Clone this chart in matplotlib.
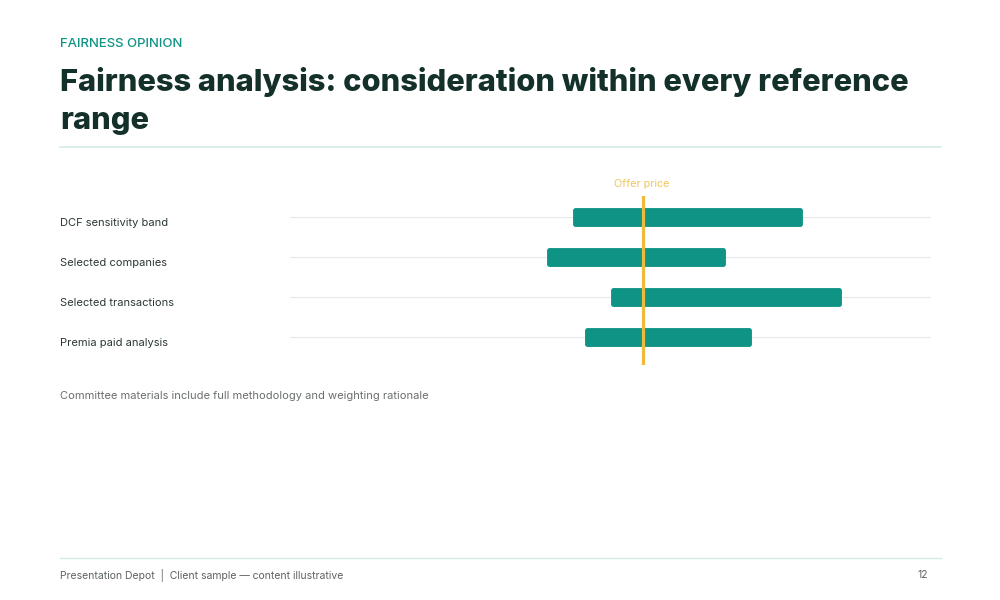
import matplotlib.pyplot as plt
from matplotlib.lines import Line2D

# data
categories = ["DCF sensitivity band", "Selected companies",
              "Selected transactions", "Premia paid analysis"]
low = [26.0, 25.0, 27.5, 26.5]
high = [35.0, 32.0, 36.5, 33.0]
offer_price = 28.75
x_domain = [15, 40]

teal = "#0e9384"
dark = "#13302b"
gold = "#f0b93c"

plt.rcParams['font.family'] = ['Inter', 'DejaVu Sans']

fig = plt.figure(figsize=(10, 6), dpi=100)
fig.patch.set_facecolor("white")

# header
fig.text(0.06, 1 - 44/600, "FAIRNESS OPINION", fontsize=9.5, color=teal,
         va="center", ha="left", fontweight="medium")
fig.text(0.06, 1 - 91/600, "Fairness analysis: consideration within every reference",
         fontsize=22.2, fontweight=800, color=dark, va="baseline", ha="left")
fig.text(0.06, 1 - 129/600, "range",
         fontsize=22.2, fontweight=800, color=dark, va="baseline", ha="left")
fig.add_artist(Line2D([0.06, 0.941], [1 - 147/600]*2, color="#d3ece7", lw=1.2))

# chart area
ax = fig.add_axes([0.29, 1 - 365/600, 0.641, 169/600])
ax.set_xlim(x_domain)
ax.set_ylim(3 + 28/40, -21/40)
ax.axis("off")

for i, cat in enumerate(categories):
    ax.axhline(i, color="#e4e9eb", lw=0.8, zorder=1)
    ax.barh(i, high[i] - low[i] - 0.2, left=low[i] + 0.1, height=0.35,
            color=teal, edgecolor=teal, lw=3.5, joinstyle="round", zorder=2)
    fig.text(0.06, 1 - (223 + 40*i)/600, cat, fontsize=8, color="#2a3835",
             va="center", ha="left")

ax.axvline(offer_price, color=gold, lw=2.3, zorder=3)
fig.text(0.642, 1 - 184/600, "Offer price", fontsize=7.8, color="#f2c55c",
         ha="center", va="center")

fig.text(0.06, 1 - 396/600,
         "Committee materials include full methodology and weighting rationale",
         fontsize=8, color="#6b6f6e", va="center", ha="left")

# footer
fig.add_artist(Line2D([0.06, 0.941], [1 - 558/600]*2, color="#d3ece7", lw=1.0))
fig.text(0.06, 1 - 575/600, "Presentation Depot  |  Client sample \u2014 content illustrative",
         fontsize=7.5, color="#5d6361", va="center", ha="left")
fig.text(0.928, 1 - 575/600, "12", fontsize=7.5, color="#5d6361",
         va="center", ha="right")

fig.savefig("out.png", dpi=100, facecolor="white")
